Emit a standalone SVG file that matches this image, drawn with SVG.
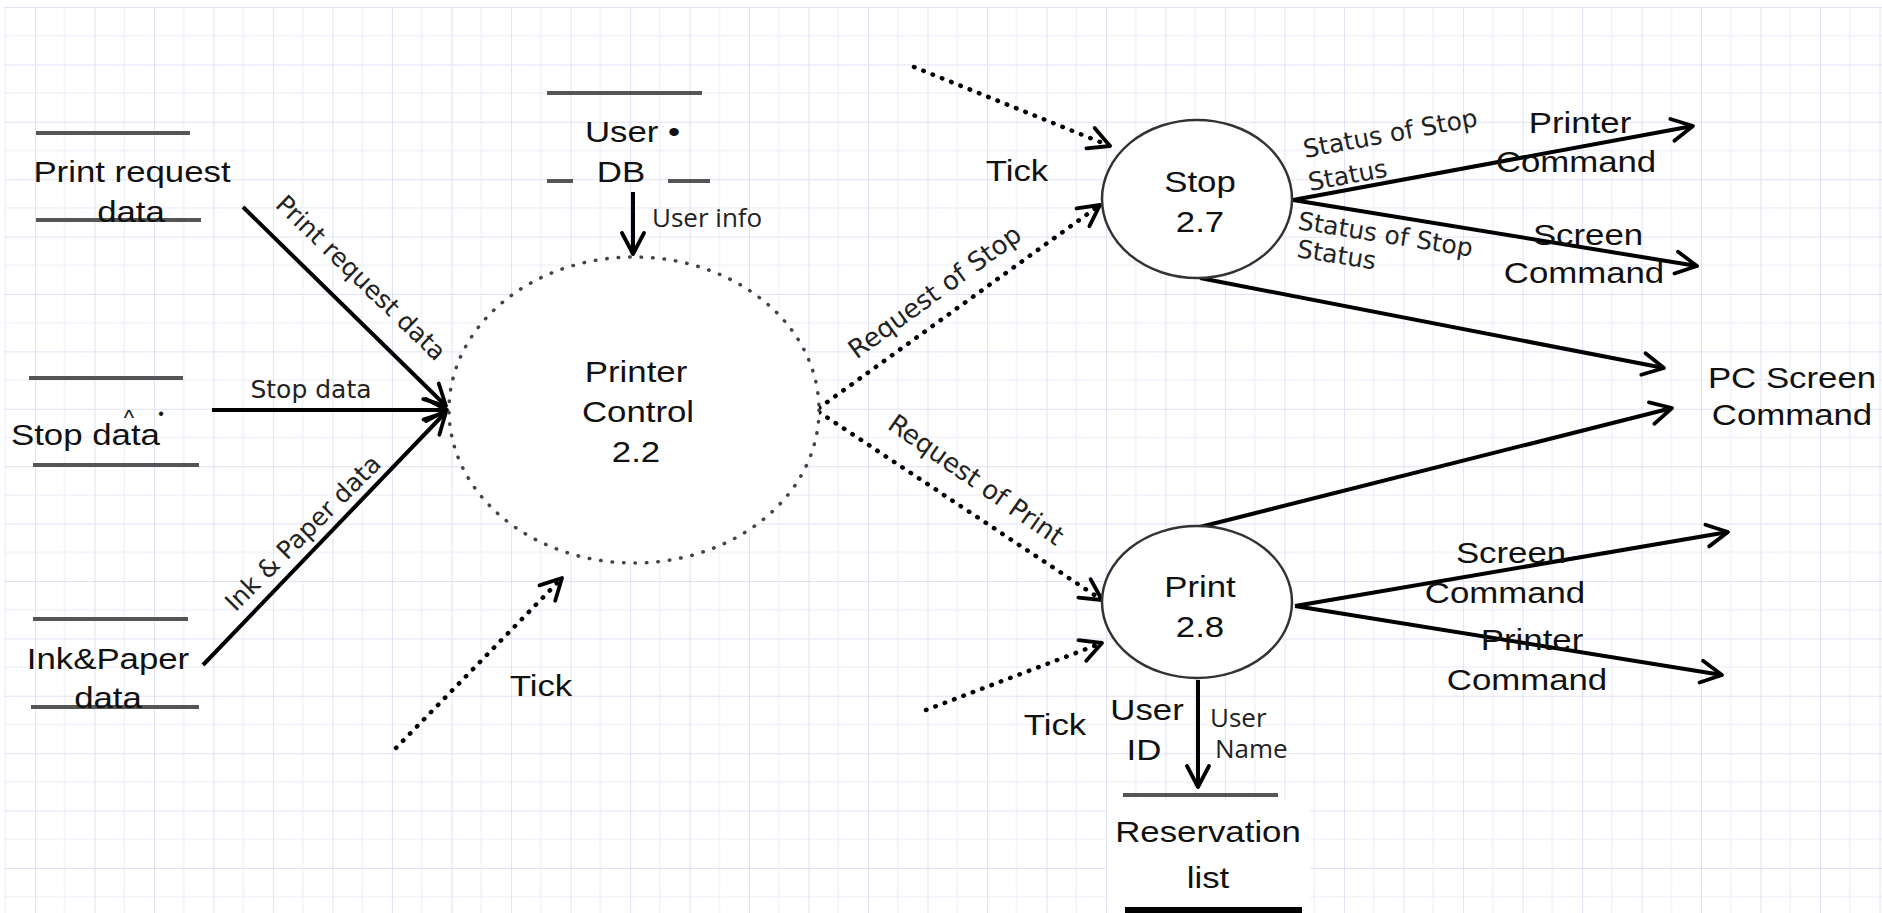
<svg xmlns="http://www.w3.org/2000/svg" width="1882" height="913" viewBox="0 0 1882 913">
<style>
.t{font-family:"Liberation Sans",Arial,sans-serif;font-size:29px;fill:#111;text-anchor:middle}
.ts{font-family:"Liberation Sans",Arial,sans-serif;font-size:29px;fill:#111;text-anchor:start}
.lb{font-family:"DejaVu Sans",Verdana,sans-serif;font-size:25px;fill:#222;text-anchor:middle}
.lbs{font-family:"DejaVu Sans",Verdana,sans-serif;font-size:25px;fill:#222;text-anchor:start}
.sm{font-family:"Open Sans",sans-serif;font-size:26px;fill:#222;text-anchor:start}
.store{stroke:#555;stroke-width:4;fill:none}
.flow{stroke:#000;stroke-width:4;fill:none;marker-end:url(#arr)}
.dot{stroke:#000;stroke-width:4.5;fill:none;stroke-linecap:round;stroke-dasharray:0.5 9.5;marker-end:url(#arr)}
.proc{fill:#fff;stroke:#333;stroke-width:2.5}
</style>
<defs>
<pattern id="grid" patternUnits="userSpaceOnUse" x="35" y="7" width="59.5" height="57.4">
<rect width="59.5" height="57.4" fill="#fff"/>
<path d="M29.75,0 V57.4 M0,28.7 H59.5" stroke="#f1f1fa" stroke-width="1.5"/>
<path d="M0,0 V57.4 M0,0 H59.5" stroke="#e2e2f7" stroke-width="2"/>
</pattern>
<marker id="arr" viewBox="0 0 28 28" refX="24" refY="14" markerWidth="28" markerHeight="28" orient="auto" markerUnits="userSpaceOnUse">
<path d="M3,3 L24,14 L3,25" fill="none" stroke="#000" stroke-width="3.8" stroke-linecap="round" stroke-linejoin="round"/>
</marker>
</defs>
<rect width="1882" height="913" fill="#fff"/>
<rect x="4" y="7" width="1878" height="906" fill="url(#grid)"/>
<rect x="1107" y="800" width="203" height="113" fill="#fff"/>

<g id="connectors">
<path class="flow" d="M243,207 L446,406"/>
<path class="flow" d="M212,410 L447,410"/>
<path class="flow" d="M203,665 L446,412"/>
<path class="flow" d="M633,192 L633,254"/>
<path class="dot" d="M396,748 L562,578"/>
<path class="dot" d="M819,408 L1100,205"/>
<path class="dot" d="M819,412 L1102,600"/>
<path class="dot" d="M914,67 L1110,146"/>
<path class="dot" d="M926,710 L1102,643"/>
<path class="flow" d="M1293,200 L1693,126"/>
<path class="flow" d="M1293,200 L1697,266"/>
<path class="flow" d="M1200,278 L1664,368"/>
<path class="flow" d="M1200,527 L1672,408"/>
<path class="flow" d="M1295,606 L1728,532"/>
<path class="flow" d="M1295,606 L1722,675"/>
<path class="flow" d="M1198,680 L1198,787"/>
<text class="lb" transform="translate(355,284) rotate(44)">Print request data</text>
<text class="lb" x="311" y="398">Stop data</text>
<text class="lb" transform="translate(309,539) rotate(-45)">Ink &amp; Paper data</text>
<text class="sm" x="652" y="227">User info</text>
<text class="t" transform="translate(541,696) scale(1.2 1)">Tick</text>
<text class="lb" transform="translate(940,299) rotate(-36)" style="font-size:26px">Request of Stop</text>
<text class="lb" transform="translate(971,487) rotate(35)" style="font-size:26px">Request of Print</text>
<text class="t" transform="translate(1017,181) scale(1.2 1)">Tick</text>
<text class="t" transform="translate(1055,735) scale(1.2 1)">Tick</text>
<text class="lbs" transform="translate(1305,158) rotate(-10.5)">Status of Stop</text>
<text class="lbs" transform="translate(1310,191) rotate(-10.5)">Status</text>
<text class="lbs" transform="translate(1297,229) rotate(9)">Status of Stop</text>
<text class="lbs" transform="translate(1296,257) rotate(9)">Status</text>
<text class="t" transform="translate(1580,133) scale(1.2 1)">Printer</text>
<text class="t" transform="translate(1576,172) scale(1.2 1)">Command</text>
<text class="t" transform="translate(1588,245) scale(1.2 1)">Screen</text>
<text class="t" transform="translate(1584,283) scale(1.2 1)">Command</text>
<text class="t" transform="translate(1511,563) scale(1.2 1)">Screen</text>
<text class="t" transform="translate(1505,603) scale(1.2 1)">Command</text>
<text class="t" transform="translate(1532,650) scale(1.2 1)">Printer</text>
<text class="t" transform="translate(1527,690) scale(1.2 1)">Command</text>
<text class="t" transform="translate(1147,720) scale(1.2 1)">User</text>
<text class="t" transform="translate(1144,760) scale(1.2 1)">ID</text>
<text class="sm" x="1210" y="727">User</text>
<text class="sm" x="1215" y="758">Name</text>
</g>

<g id="store-print-request">
<path class="store" d="M36,133 H190 M36,220 H201"/>
<text class="t" transform="translate(132,182) scale(1.2 1)">Print request</text>
<text class="t" transform="translate(131,222) scale(1.2 1)">data</text>
</g>
<g id="store-stop-data">
<path class="store" d="M29,378 H183 M33,465 H199"/>
<text class="ts" transform="translate(11,445) scale(1.2 1)">Stop data</text>
<text class="t" x="129" y="425" style="font-size:22px">^</text>
<text class="t" x="161" y="419" style="font-size:16px">•</text>
</g>
<g id="store-ink-paper">
<path class="store" d="M33,619 H188 M31,707 H199"/>
<text class="t" transform="translate(108,669) scale(1.2 1)">Ink&amp;Paper</text>
<text class="t" transform="translate(108,708) scale(1.2 1)">data</text>
</g>
<g id="store-user-db">
<path class="store" d="M547,93 H702 M547,181 H573 M668,181 H710"/>
<text class="ts" transform="translate(585,142) scale(1.2 1)">User •</text>
<text class="t" transform="translate(621,182) scale(1.2 1)">DB</text>
</g>
<g id="process-printer-control">
<ellipse cx="634" cy="410" rx="185" ry="153" fill="#fff" stroke="#444" stroke-width="3.5" stroke-linecap="round" stroke-dasharray="0.5 11"/>
<text class="t" transform="translate(636,382) scale(1.2 1)">Printer</text>
<text class="t" transform="translate(638,422) scale(1.2 1)">Control</text>
<text class="t" transform="translate(636,462) scale(1.2 1)">2.2</text>
</g>
<g id="process-stop">
<ellipse class="proc" cx="1197" cy="199" rx="95" ry="79"/>
<text class="t" transform="translate(1200,192) scale(1.2 1)">Stop</text>
<text class="t" transform="translate(1200,232) scale(1.2 1)">2.7</text>
</g>
<g id="process-print">
<ellipse class="proc" cx="1197" cy="602" rx="95" ry="76"/>
<text class="t" transform="translate(1200,597) scale(1.2 1)">Print</text>
<text class="t" transform="translate(1200,637) scale(1.2 1)">2.8</text>
</g>
<g id="sink-pc-screen">
<text class="t" transform="translate(1792,388) scale(1.2 1)">PC Screen</text>
<text class="t" transform="translate(1792,425) scale(1.2 1)">Command</text>
</g>
<g id="store-reservation">
<path class="store" d="M1123,795 H1278"/>
<path d="M1125,910 H1302" stroke="#000" stroke-width="6"/>
<text class="t" transform="translate(1208,842) scale(1.2 1)">Reservation</text>
<text class="t" transform="translate(1208,888) scale(1.2 1)">list</text>
</g>
</svg>
